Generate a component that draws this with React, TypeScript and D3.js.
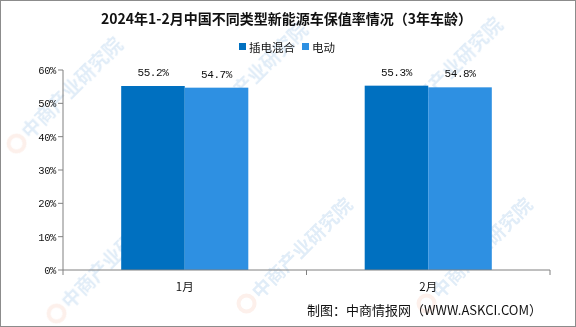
import React from "react";
import * as d3 from "d3";

const categories = ["1月", "2月"];
const seriesNames = ["插电混合", "电动"];
const phevValues = [55.2, 55.3];
const evValues = [54.7, 54.8];
const yTicks = [0, 10, 20, 30, 40, 50, 60];
const colors = ["#0070C0", "#2E90E2"];
const watermarkSpots = [
  [30, 140], [215, 125], [410, 120],
  [70, 310], [260, 300], [440, 300],
];

export default function App() {
  const W = 576, H = 327;
  const left = 63, right = 550, top = 70, bottom = 270;
  const x0 = d3.scaleBand().domain(categories).range([left, right]).paddingInner(0).paddingOuter(0);
  const y = d3.scaleLinear().domain([0, 60]).range([bottom, top]);
  const groupW = x0.bandwidth() * 0.522;
  const x1 = d3.scaleBand().domain(seriesNames).range([0, groupW]).padding(0);
  const series = [phevValues, evValues];
  const numFont = "'Liberation Mono', 'DejaVu Sans Mono', monospace";
  const cjk = "'Noto Sans CJK SC', sans-serif";
  return (
    <svg width={W} height={H} style={{ position: "absolute", left: 0, top: 0, background: "#fff" }}>
      <rect x={0.5} y={0.5} width={W - 1} height={H - 1} fill="#fff" stroke="#8c8c8c" />
      <g opacity={0.16}>
        {watermarkSpots.map(([wx, wy], i) => (
          <g key={i} transform={`translate(${wx},${wy}) rotate(-45)`}>
            <circle cx={-12} cy={-7} r={8} fill="none" stroke="#f0a080" strokeWidth={4} />
            <text x={0} y={0} fontFamily={cjk} fontSize={19} fontWeight="bold" fill="#3f8ad0">中商产业研究院</text>
          </g>
        ))}
      </g>
      <text x={286.5} y={24} textAnchor="middle" fontFamily={cjk} fontWeight="bold" fontSize={14} fill="#111">
        2024年1-2月中国不同类型新能源车保值率情况（3年车龄）
      </text>
      {seriesNames.map((n, i) => {
        const lx = i === 0 ? 239 : 302;
        return (
          <g key={n}>
            <rect x={lx} y={43} width={7} height={7} fill={colors[i]} />
            <text x={lx + 10} y={51.5} fontFamily={cjk} fontSize={11.5} fill="#111">{n}</text>
          </g>
        );
      })}
      {categories.map((c, ci) => {
        const gx = (x0(c) as number) + (x0.bandwidth() - groupW) / 2;
        return (
          <g key={c}>
            {series.map((vals, si) => {
              const bx = gx + (x1(seriesNames[si]) as number);
              return (
                <g key={si}>
                  <rect x={bx} y={y(vals[ci])} width={x1.bandwidth()} height={bottom - y(vals[ci])} fill={colors[si]} />
                  <text x={bx + x1.bandwidth() / 2} y={y(vals[ci]) - 10} textAnchor="middle" fontFamily={numFont} fontSize={11} fill="#111" letterSpacing={-0.4}>
                    {vals[ci].toFixed(1)}%
                  </text>
                </g>
              );
            })}
            <text x={(x0(c) as number) + x0.bandwidth() / 2} y={291} textAnchor="middle" fontFamily={cjk} fontSize={11.5} fill="#111">{c}</text>
          </g>
        );
      })}
      <line x1={left} x2={left} y1={top} y2={bottom} stroke="#808080" />
      {yTicks.map((t) => (
        <g key={t}>
          <line x1={left - 5} x2={left} y1={y(t)} y2={y(t)} stroke="#808080" />
          <text x={left - 7} y={y(t) + 4} textAnchor="end" fontFamily={numFont} fontSize={10.5} fill="#111" letterSpacing={-0.4}>{t}%</text>
        </g>
      ))}
      <line x1={left} x2={right} y1={bottom} y2={bottom} stroke="#808080" />
      {[left, left + x0.bandwidth(), right].map((tx, i) => (
        <line key={i} x1={tx} x2={tx} y1={bottom} y2={bottom + 5} stroke="#808080" />
      ))}
      <text x={542} y={315} textAnchor="end" fontFamily={cjk} fontSize={13} fill="#111">
        制图：中商情报网（WWW.ASKCI.COM）
      </text>
    </svg>
  );
}
